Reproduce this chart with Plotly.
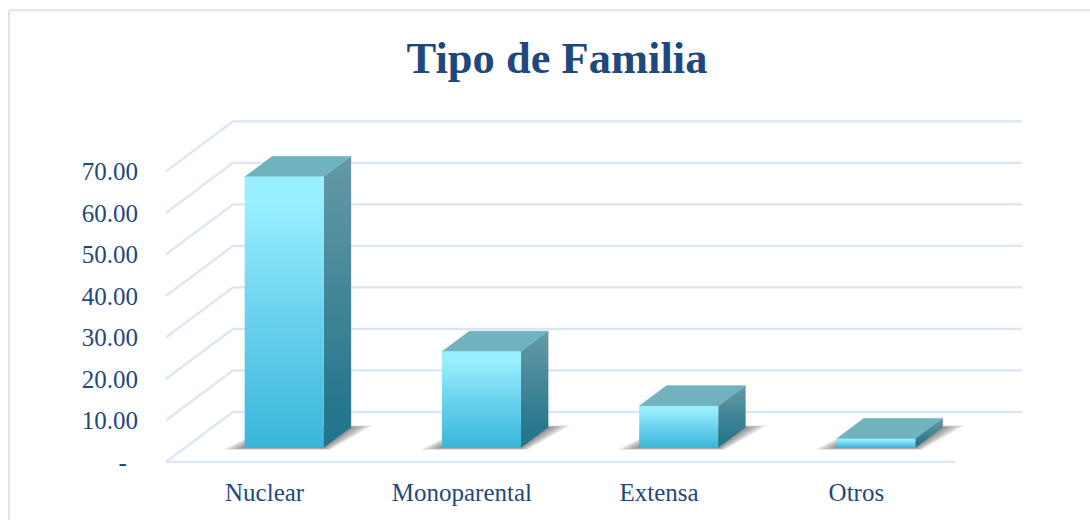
import plotly.graph_objects as go

# ---- data ----
categories = ["Nuclear", "Monoparental", "Extensa", "Otros"]
values = [65.3, 23.2, 10.1, 2.2]
tick_values = [0, 10, 20, 30, 40, 50, 60, 70]
tick_labels = ["-\u00a0\u2009", "10.00", "20.00", "30.00", "40.00", "50.00", "60.00", "70.00"]
title_text = "Tipo de Familia"

# ---- styles / geometry ----
W, H = 1090, 520
FL, FR, BR = 166, 955, 1022      # floor front-left, front-right, back-right px
Y0, PT = 461.7, 120              # pixel of value 0 and of top back line
PXU = (FR - FL) / len(categories)  # px per category
PYU = 41.5 / 10                    # px per value unit
DEPX = (BR - FR) / PXU             # wall depth in x units
DEPY = 50 / PYU                    # wall depth in y units
HALF = 39.5 / PXU                  # half bar width
SHIFT = 0.8 / PXU                  # small sideways nudge of bars
F0 = 0.28                          # fraction of depth where bar front sits
F1 = 0.69                          # fraction of depth where bar back sits
PAD = 1.0                          # value units of room above/below so lines are not clipped
TEXT = "#1F497D"
GRID = "#DAE5F5"
FONT = "Liberation Serif"

x_lo, x_hi = -0.5, len(categories) - 0.5 + DEPX
y_lo, y_hi = -PAD, (Y0 - PT) / PYU + PAD
P_TOP, P_BOT = PT - PAD * PYU, Y0 + PAD * PYU


def wall(xv, yv, frac):
    return xv + frac * DEPX, yv + frac * DEPY


def py(px):
    return (P_BOT - px) / (P_BOT - P_TOP)


def px_x(px):
    return (px - FL) / (BR - FL)


fig = go.Figure()

# perspective grid: left wall + back wall, then floor front edge
for tv in tick_values:
    xs = [x_lo, x_lo + DEPX, x_hi]
    ys = [tv, tv + DEPY, tv + DEPY]
    fig.add_trace(go.Scatter(x=xs, y=ys, mode="lines", cliponaxis=False,
                             line=dict(color=GRID, width=2.2), hoverinfo="skip", showlegend=False))
fig.add_trace(go.Scatter(x=[x_lo, len(categories) - 0.5], y=[0, 0], mode="lines", cliponaxis=False,
                         line=dict(color=GRID, width=2.2), hoverinfo="skip", showlegend=False))

# bars
for i, v in enumerate(values):
    l0, b0 = wall(i + SHIFT - HALF, 0, F0)
    r0, _ = wall(i + SHIFT + HALF, 0, F0)
    l1, b1 = wall(i + SHIFT - HALF, 0, F1)
    r1, _ = wall(i + SHIFT + HALF, 0, F1)
    t0, t1 = b0 + v, b1 + v

    # soft floor shadow made of stacked translucent parallelograms
    spread = [22, 19, 16, 13, 10, 7, 4, 2]
    for e in spread:
        ex = e / PXU
        ey = e * 0.09 / PYU
        fig.add_trace(go.Scatter(
            x=[l0 - ex, r0 + ex * 0.3, r1 + ex, l1],
            y=[b0 - ey, b0 - ey, b1 + ey, b1 + ey],
            mode="lines", line=dict(width=0), fill="toself",
            fillcolor="rgba(40,40,40,0.08)", hoverinfo="skip", showlegend=False))

    # top
    fig.add_trace(go.Scatter(x=[l0, r0, r1, l1, l0], y=[t0, t0, t1, t1, t0], mode="lines",
                             line=dict(width=0.5, color="#7FBECA"), fill="toself", fillcolor="#70B3BF",
                             hoverinfo="skip", showlegend=False))
    # side
    fig.add_trace(go.Scatter(x=[r0, r1, r1, r0, r0], y=[b0, b1, t1, t0, b0], mode="lines",
                             line=dict(width=0), fill="toself",
                             fillgradient=dict(type="vertical",
                                               colorscale=[[0, "#23758C"], [0.15, "#27778D"], [1, "#6699A6"]]),
                             hoverinfo="skip", showlegend=False))
    # front
    fig.add_trace(go.Scatter(x=[l0, r0, r0, l0, l0], y=[b0, b0, t0, t0, b0], mode="lines",
                             line=dict(width=0), fill="toself",
                             fillgradient=dict(type="vertical",
                                               colorscale=[[0, "#38B6D9"], [0.5, "#6CD3EE"], [0.9, "#97EFFF"], [1, "#99F1FF"]]),
                             hoverinfo="skip", showlegend=False))

fig.update_layout(
    width=W, height=H,
    autosize=False,
    paper_bgcolor="white", plot_bgcolor="white",
    showlegend=False,
    margin=dict(l=FL, r=W - BR, t=P_TOP, b=H - P_BOT, pad=0, autoexpand=False),
    title=dict(text="<b>" + title_text + "</b>", x=557 / W, xanchor="center", xref="container",
               y=1 - 57.5 / H, yanchor="middle", yref="container",
               font=dict(family=FONT, size=44.5, color=TEXT)),
    xaxis=dict(range=[x_lo, x_hi], tickmode="array", tickvals=list(range(len(categories))),
               ticktext=categories, showgrid=False, zeroline=False, showline=False, ticks="",
               automargin=False, ticklabelstandoff=9,
               tickfont=dict(family=FONT, size=25, color=TEXT), fixedrange=True),
    yaxis=dict(range=[y_lo, y_hi], tickmode="array", tickvals=tick_values, ticktext=tick_labels,
               showgrid=False, zeroline=False, showline=False, ticks="",
               automargin=False, ticklabelstandoff=27,
               tickfont=dict(family=FONT, size=25, color=TEXT), fixedrange=True),
    shapes=[
        dict(type="line", xref="paper", yref="paper", layer="below",
             x0=px_x(9), x1=px_x(W), y0=py(10), y1=py(10), line=dict(color=GRID, width=2)),
        dict(type="line", xref="paper", yref="paper", layer="below",
             x0=px_x(9), x1=px_x(9), y0=py(10), y1=py(H), line=dict(color=GRID, width=2)),
    ],
)

fig.write_html("out.html", config=dict(displayModeBar=False),
               post_script="document.body.style.margin='0';document.body.style.overflow='hidden';")
